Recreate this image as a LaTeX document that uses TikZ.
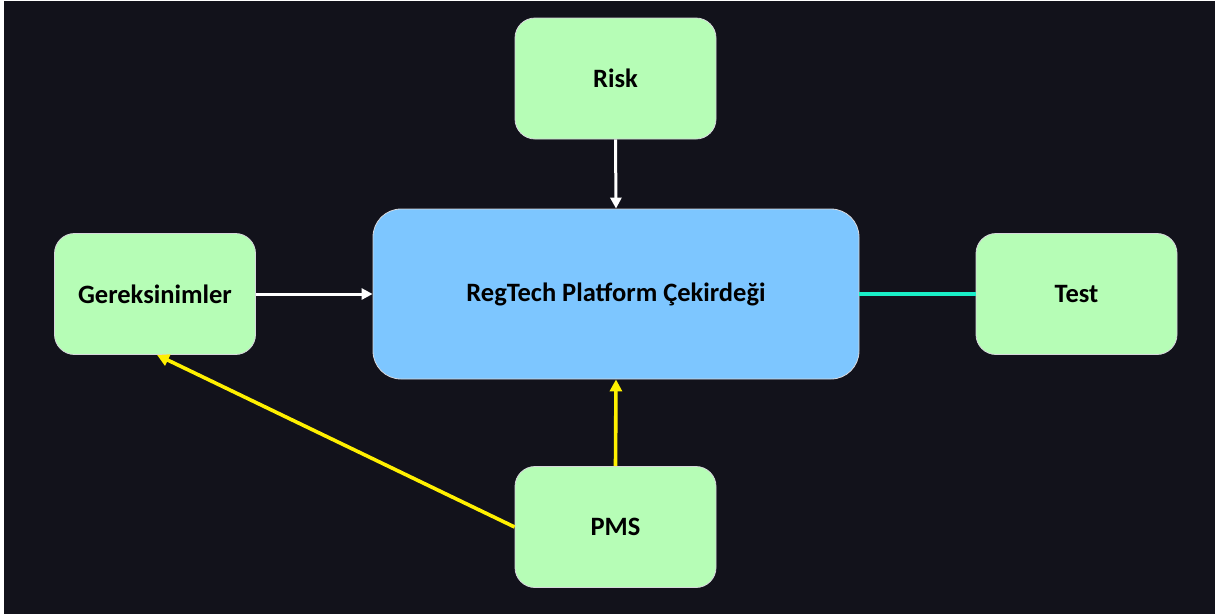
\documentclass[tikz,border=0pt]{standalone}
\usepackage{fontspec}
\setmainfont{Carlito}
\usetikzlibrary{arrows.meta}
\definecolor{bg}{RGB}{18,18,27}
\definecolor{boxgreen}{RGB}{182,253,182}
\definecolor{boxblue}{RGB}{125,198,255}
\definecolor{teal}{RGB}{25,240,200}
\definecolor{edgegray}{RGB}{215,215,220}
\definecolor{arrowyellow}{RGB}{255,240,0}
\tikzset{
  gbox/.style={draw=edgegray, line width=0.8pt, fill=boxgreen, rounded corners=20pt,
    minimum width=201pt, minimum height=121pt, inner sep=0pt,
    font=\fontsize{26.5}{30}\selectfont\bfseries, text=black},
  cbox/.style={draw=edgegray, line width=0.8pt, fill=boxblue, rounded corners=28pt,
    minimum width=486pt, minimum height=170pt, inner sep=0pt,
    font=\fontsize{26.5}{30}\selectfont\bfseries, text=black},
  warrow/.style={draw=white, line width=3pt, -{Triangle[length=11pt,width=11pt]}},
  yarrow/.style={draw=arrowyellow, line width=3.6pt, -{Triangle[length=12pt,width=12pt]}},
  tline/.style={draw=teal, line width=4.5pt},
}
\begin{document}
\begin{tikzpicture}[x=1pt,y=-1pt]
\useasboundingbox (0,0) rectangle (1215,614);
\fill[white] (0,0) rectangle (1215,614);
\fill[bg] (4,1) rectangle (1215,614);
\node[cbox] (core) at (616,294) {RegTech Platform Çekirdeği};
\node[gbox] (risk) at (615.5,78.5) {Risk};
\node[gbox] (ger) at (155,294) {Gereksinimler};
\node[gbox] (test) at (1076.5,294) {Test};
\node[gbox] (pms) at (615.5,527) {PMS};
\draw[warrow] (risk.south) -- (core.north);
\draw[warrow] (ger.east) -- (core.west);
\draw[tline] (core.east) -- (test.west);
\draw[yarrow] (pms.north) -- (core.south);
\draw[yarrow] (pms.west) -- ([xshift=2pt]ger.south);
\end{tikzpicture}
\end{document}
